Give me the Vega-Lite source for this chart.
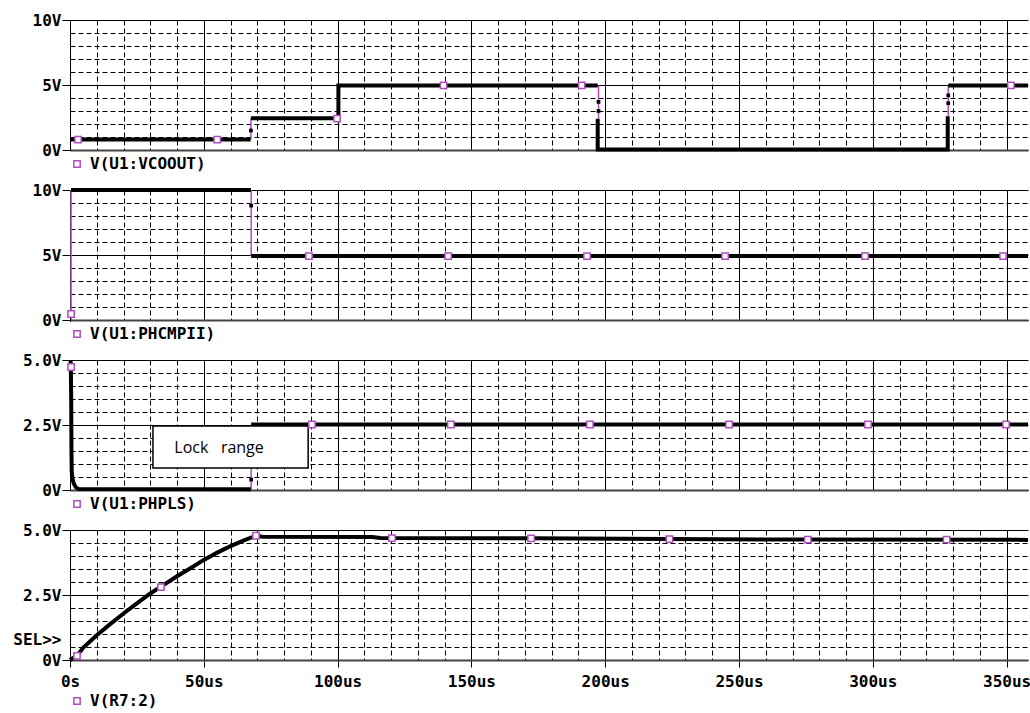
{
  "$schema": "https://vega.github.io/schema/vega-lite/v6.json",
  "background": "white",
  "padding": {"left": 12, "top": 12, "right": 0, "bottom": 0},
  "spacing": 40,
  "bounds": "flush",
  "resolve": {"scale": {"stroke": "independent"}},
  "config": {
    "view": {"stroke": null},
    "axis": {"labelFont": "DejaVu Sans Mono", "labelFontWeight": "bold", "labelFontSize": 16, "labelColor": "black", "labelFlush": false, "labelOverlap": false, "domainColor": "black", "tickColor": "black", "gridColor": "black", "gridOpacity": 1, "gridWidth": 1},
    "legend": {"labelFont": "DejaVu Sans Mono", "labelFontWeight": "bold", "labelFontSize": 16, "labelColor": "black", "padding": 0}
  },
  "datasets": {
    "trace": [
      {"i": 1, "p": "A", "s": "A1", "k": "b", "t": 0, "v": 0.8},
      {"i": 2, "p": "A", "s": "A1", "k": "b", "t": 67.5, "v": 0.8},
      {"i": 3, "p": "A", "s": "A2", "k": "p", "t": 67.6, "v": 0.8},
      {"i": 4, "p": "A", "s": "A2", "k": "p", "t": 67.6, "v": 2.45},
      {"i": 5, "p": "A", "s": "A3", "k": "b", "t": 67.6, "v": 2.45},
      {"i": 6, "p": "A", "s": "A3", "k": "b", "t": 100.3, "v": 2.45},
      {"i": 7, "p": "A", "s": "A3", "k": "b", "t": 100.3, "v": 4.97},
      {"i": 8, "p": "A", "s": "A3", "k": "b", "t": 197.2, "v": 4.97},
      {"i": 9, "p": "A", "s": "A4", "k": "p", "t": 197.5, "v": 4.97},
      {"i": 10, "p": "A", "s": "A4", "k": "p", "t": 197.5, "v": 2.4},
      {"i": 11, "p": "A", "s": "A5", "k": "b", "t": 197.2, "v": 2.4},
      {"i": 12, "p": "A", "s": "A5", "k": "b", "t": 197.2, "v": 0.03},
      {"i": 13, "p": "A", "s": "A5", "k": "b", "t": 328, "v": 0.03},
      {"i": 14, "p": "A", "s": "A5", "k": "b", "t": 328, "v": 2.6},
      {"i": 15, "p": "A", "s": "A6", "k": "p", "t": 328.2, "v": 2.6},
      {"i": 16, "p": "A", "s": "A6", "k": "p", "t": 328.2, "v": 4.97},
      {"i": 17, "p": "A", "s": "A7", "k": "b", "t": 328.2, "v": 4.97},
      {"i": 18, "p": "A", "s": "A7", "k": "b", "t": 358, "v": 4.97},
      {"i": 19, "p": "A", "s": "d", "k": "d", "t": 67.6, "v": 1.5},
      {"i": 20, "p": "A", "s": "d", "k": "d", "t": 197.5, "v": 3.7},
      {"i": 21, "p": "A", "s": "d", "k": "d", "t": 197.5, "v": 3.0},
      {"i": 22, "p": "A", "s": "d", "k": "d", "t": 328.2, "v": 4.2},
      {"i": 23, "p": "A", "s": "d", "k": "d", "t": 328.2, "v": 3.6},
      {"i": 30, "p": "B", "s": "B1", "k": "b", "t": 0, "v": 0},
      {"i": 31, "p": "B", "s": "B1", "k": "b", "t": 0.3, "v": 0},
      {"i": 32, "p": "B", "s": "B2", "k": "p", "t": 0.4, "v": 0},
      {"i": 33, "p": "B", "s": "B2", "k": "p", "t": 0.4, "v": 10},
      {"i": 34, "p": "B", "s": "B3", "k": "b", "t": 0.4, "v": 10},
      {"i": 35, "p": "B", "s": "B3", "k": "b", "t": 67.6, "v": 10},
      {"i": 36, "p": "B", "s": "B4", "k": "p", "t": 67.7, "v": 10},
      {"i": 37, "p": "B", "s": "B4", "k": "p", "t": 67.7, "v": 4.92},
      {"i": 38, "p": "B", "s": "B5", "k": "b", "t": 67.7, "v": 4.92},
      {"i": 39, "p": "B", "s": "B5", "k": "b", "t": 358, "v": 4.92},
      {"i": 40, "p": "B", "s": "d", "k": "d", "t": 67.7, "v": 8.8},
      {"i": 50, "p": "C", "s": "C1", "k": "p", "t": 0.45, "v": 5},
      {"i": 51, "p": "C", "s": "C1", "k": "p", "t": 0.45, "v": 0.4},
      {"i": 52, "p": "C", "s": "C2", "k": "b", "t": 0.2, "v": 5},
      {"i": 53, "p": "C", "s": "C2", "k": "b", "t": 0.3, "v": 4.8},
      {"i": 54, "p": "C", "s": "C2", "k": "b", "t": 0.45, "v": 3.5},
      {"i": 55, "p": "C", "s": "C2", "k": "b", "t": 0.55, "v": 1.5},
      {"i": 56, "p": "C", "s": "C2", "k": "b", "t": 0.65, "v": 0.7},
      {"i": 57, "p": "C", "s": "C2", "k": "b", "t": 0.9, "v": 0.45},
      {"i": 58, "p": "C", "s": "C2", "k": "b", "t": 1.4, "v": 0.25},
      {"i": 59, "p": "C", "s": "C2", "k": "b", "t": 2.2, "v": 0.1},
      {"i": 60, "p": "C", "s": "C2", "k": "b", "t": 3.2, "v": 0.04},
      {"i": 61, "p": "C", "s": "C2", "k": "b", "t": 67.6, "v": 0.03},
      {"i": 62, "p": "C", "s": "C3", "k": "p", "t": 67.7, "v": 0.03},
      {"i": 63, "p": "C", "s": "C3", "k": "p", "t": 67.7, "v": 2.52},
      {"i": 64, "p": "C", "s": "C4", "k": "b", "t": 67.7, "v": 2.52},
      {"i": 65, "p": "C", "s": "C4", "k": "b", "t": 358, "v": 2.52},
      {"i": 66, "p": "C", "s": "d", "k": "d", "t": 67.7, "v": 0.4},
      {"i": 70, "p": "D", "s": "D1", "k": "b", "t": 0, "v": 0},
      {"i": 71, "p": "D", "s": "D1", "k": "b", "t": 2.6, "v": 0.16},
      {"i": 72, "p": "D", "s": "D1", "k": "b", "t": 5, "v": 0.48},
      {"i": 73, "p": "D", "s": "D1", "k": "b", "t": 10, "v": 0.95},
      {"i": 74, "p": "D", "s": "D1", "k": "b", "t": 15, "v": 1.38},
      {"i": 75, "p": "D", "s": "D1", "k": "b", "t": 20, "v": 1.79},
      {"i": 76, "p": "D", "s": "D1", "k": "b", "t": 25, "v": 2.18},
      {"i": 77, "p": "D", "s": "D1", "k": "b", "t": 30, "v": 2.56},
      {"i": 78, "p": "D", "s": "D1", "k": "b", "t": 34, "v": 2.82},
      {"i": 79, "p": "D", "s": "D1", "k": "b", "t": 40, "v": 3.22},
      {"i": 80, "p": "D", "s": "D1", "k": "b", "t": 45, "v": 3.53},
      {"i": 81, "p": "D", "s": "D1", "k": "b", "t": 50, "v": 3.85},
      {"i": 82, "p": "D", "s": "D1", "k": "b", "t": 55, "v": 4.13},
      {"i": 83, "p": "D", "s": "D1", "k": "b", "t": 60, "v": 4.38},
      {"i": 84, "p": "D", "s": "D1", "k": "b", "t": 65, "v": 4.6},
      {"i": 85, "p": "D", "s": "D1", "k": "b", "t": 69.5, "v": 4.78},
      {"i": 86, "p": "D", "s": "D1", "k": "b", "t": 72, "v": 4.74},
      {"i": 87, "p": "D", "s": "D1", "k": "b", "t": 113, "v": 4.73},
      {"i": 88, "p": "D", "s": "D1", "k": "b", "t": 116, "v": 4.69},
      {"i": 89, "p": "D", "s": "D1", "k": "b", "t": 172, "v": 4.68},
      {"i": 90, "p": "D", "s": "D1", "k": "b", "t": 224, "v": 4.65},
      {"i": 91, "p": "D", "s": "D1", "k": "b", "t": 275, "v": 4.63},
      {"i": 92, "p": "D", "s": "D1", "k": "b", "t": 358, "v": 4.62}
    ],
    "marks": [
      {"p": "A", "name": "V(U1:VCOOUT)", "t": 3, "v": 0.8},
      {"p": "A", "name": "V(U1:VCOOUT)", "t": 55, "v": 0.8},
      {"p": "A", "name": "V(U1:VCOOUT)", "t": 99.8, "v": 2.42},
      {"p": "A", "name": "V(U1:VCOOUT)", "t": 139.6, "v": 4.97},
      {"p": "A", "name": "V(U1:VCOOUT)", "t": 191.2, "v": 4.97},
      {"p": "A", "name": "V(U1:VCOOUT)", "t": 351.6, "v": 4.97},
      {"p": "B", "name": "V(U1:PHCMPII)", "t": 0.4, "v": 0.46},
      {"p": "B", "name": "V(U1:PHCMPII)", "t": 89.3, "v": 4.92},
      {"p": "B", "name": "V(U1:PHCMPII)", "t": 141.3, "v": 4.92},
      {"p": "B", "name": "V(U1:PHCMPII)", "t": 193.2, "v": 4.92},
      {"p": "B", "name": "V(U1:PHCMPII)", "t": 244.8, "v": 4.92},
      {"p": "B", "name": "V(U1:PHCMPII)", "t": 297.1, "v": 4.92},
      {"p": "B", "name": "V(U1:PHCMPII)", "t": 348.7, "v": 4.92},
      {"p": "C", "name": "V(U1:PHPLS)", "t": 0.4, "v": 4.73},
      {"p": "C", "name": "V(U1:PHPLS)", "t": 90.4, "v": 2.52},
      {"p": "C", "name": "V(U1:PHPLS)", "t": 142.3, "v": 2.52},
      {"p": "C", "name": "V(U1:PHPLS)", "t": 194.3, "v": 2.52},
      {"p": "C", "name": "V(U1:PHPLS)", "t": 246.3, "v": 2.52},
      {"p": "C", "name": "V(U1:PHPLS)", "t": 298.2, "v": 2.52},
      {"p": "C", "name": "V(U1:PHPLS)", "t": 349.8, "v": 2.52},
      {"p": "D", "name": "V(R7:2)", "t": 2.6, "v": 0.16},
      {"p": "D", "name": "V(R7:2)", "t": 34, "v": 2.8},
      {"p": "D", "name": "V(R7:2)", "t": 69.5, "v": 4.78},
      {"p": "D", "name": "V(R7:2)", "t": 120.3, "v": 4.69},
      {"p": "D", "name": "V(R7:2)", "t": 172.3, "v": 4.68},
      {"p": "D", "name": "V(R7:2)", "t": 224, "v": 4.65},
      {"p": "D", "name": "V(R7:2)", "t": 275.7, "v": 4.63},
      {"p": "D", "name": "V(R7:2)", "t": 327.6, "v": 4.63}
    ],
    "annot": [
      {"k": "box", "t": 31, "t2": 89, "v": 2.46, "v2": 0.85},
      {"k": "text", "t": 39, "v": 1.62, "label": "Lock\u00a0\u00a0 range"}
    ]
  },
  "vconcat": [
    {
      "width": 958, "height": 130,
      "encoding": {
        "x": {"field": "t", "type": "quantitative", "scale": {"domain": [0, 358], "nice": false, "zero": false},
          "axis": {"title": null, "values": [0,10,20,30,40,50,60,70,80,90,100,110,120,130,140,150,160,170,180,190,200,210,220,230,240,250,260,270,280,290,300,310,320,330,340,350], "labels": false, "ticks": false, "domainColor": "#444", "domainWidth": 2, "gridDash": {"condition": {"test": "datum.value % 50 === 0", "value": []}, "value": [5, 3]}}},
        "y": {"field": "v", "type": "quantitative", "scale": {"domain": [0, 10], "nice": false, "zero": false},
          "axis": {"title": null, "values": [0,1,2,3,4,5,6,7,8,9,10], "tickSize": 8, "labelPadding": 1, "tickOpacity": {"condition": {"test": "datum.value % 5 === 0", "value": 1}, "value": 0}, "labelExpr": "datum.value === 0 ? '0V' : datum.value === 5 ? '5V' : datum.value === 10 ? '10V' : ''", "gridDash": {"condition": {"test": "datum.value % 5 === 0", "value": []}, "value": [5, 3]}}}
      },
      "layer": [
        {"data": {"name": "trace"}, "transform": [{"filter": "datum.p === 'A' && datum.k === 'p'"}], "mark": {"type": "line", "color": "#b04cc0", "strokeWidth": 1.5}, "encoding": {"detail": {"field": "s"}, "order": {"field": "i", "type": "quantitative"}}},
        {"data": {"name": "trace"}, "transform": [{"filter": "datum.p === 'A' && datum.k === 'b'"}], "mark": {"type": "line", "color": "black", "strokeWidth": 4}, "encoding": {"detail": {"field": "s"}, "order": {"field": "i", "type": "quantitative"}}},
        {"data": {"name": "trace"}, "transform": [{"filter": "datum.p === 'A' && datum.k === 'd'"}], "mark": {"type": "square", "color": "black", "size": 14, "opacity": 1}},
        {"data": {"name": "marks"}, "transform": [{"filter": "datum.p === 'A'"}], "mark": {"type": "point", "shape": "square", "filled": true, "fill": "white", "fillOpacity": 1, "strokeWidth": 1.5, "size": 40, "opacity": 1},
          "encoding": {"stroke": {"field": "name", "type": "nominal", "scale": {"range": ["#b04cc0"]}, "legend": {"title": null, "orient": "none", "legendX": -1, "legendY": 136, "symbolType": "square", "symbolSize": 40, "symbolStrokeWidth": 1.5, "symbolFillColor": "white", "labelOffset": 5}}}}
      ]
    },
    {
      "width": 958, "height": 130,
      "encoding": {
        "x": {"field": "t", "type": "quantitative", "scale": {"domain": [0, 358], "nice": false, "zero": false},
          "axis": {"title": null, "values": [0,10,20,30,40,50,60,70,80,90,100,110,120,130,140,150,160,170,180,190,200,210,220,230,240,250,260,270,280,290,300,310,320,330,340,350], "labels": false, "ticks": false, "domainColor": "#444", "domainWidth": 2, "gridDash": {"condition": {"test": "datum.value % 50 === 0", "value": []}, "value": [5, 3]}}},
        "y": {"field": "v", "type": "quantitative", "scale": {"domain": [0, 10], "nice": false, "zero": false},
          "axis": {"title": null, "values": [0,1,2,3,4,5,6,7,8,9,10], "tickSize": 8, "labelPadding": 1, "tickOpacity": {"condition": {"test": "datum.value % 5 === 0", "value": 1}, "value": 0}, "labelExpr": "datum.value === 0 ? '0V' : datum.value === 5 ? '5V' : datum.value === 10 ? '10V' : ''", "gridDash": {"condition": {"test": "datum.value % 5 === 0", "value": []}, "value": [5, 3]}}}
      },
      "layer": [
        {"data": {"name": "trace"}, "transform": [{"filter": "datum.p === 'B' && datum.k === 'p'"}], "mark": {"type": "line", "color": "#b04cc0", "strokeWidth": 1.5}, "encoding": {"detail": {"field": "s"}, "order": {"field": "i", "type": "quantitative"}}},
        {"data": {"name": "trace"}, "transform": [{"filter": "datum.p === 'B' && datum.k === 'b'"}], "mark": {"type": "line", "color": "black", "strokeWidth": 4}, "encoding": {"detail": {"field": "s"}, "order": {"field": "i", "type": "quantitative"}}},
        {"data": {"name": "trace"}, "transform": [{"filter": "datum.p === 'B' && datum.k === 'd'"}], "mark": {"type": "square", "color": "black", "size": 14, "opacity": 1}},
        {"data": {"name": "marks"}, "transform": [{"filter": "datum.p === 'B'"}], "mark": {"type": "point", "shape": "square", "filled": true, "fill": "white", "fillOpacity": 1, "strokeWidth": 1.5, "size": 40, "opacity": 1},
          "encoding": {"stroke": {"field": "name", "type": "nominal", "scale": {"range": ["#b04cc0"]}, "legend": {"title": null, "orient": "none", "legendX": -1, "legendY": 136, "symbolType": "square", "symbolSize": 40, "symbolStrokeWidth": 1.5, "symbolFillColor": "white", "labelOffset": 5}}}}
      ]
    },
    {
      "width": 958, "height": 130,
      "encoding": {
        "x": {"field": "t", "type": "quantitative", "scale": {"domain": [0, 358], "nice": false, "zero": false},
          "axis": {"title": null, "values": [0,10,20,30,40,50,60,70,80,90,100,110,120,130,140,150,160,170,180,190,200,210,220,230,240,250,260,270,280,290,300,310,320,330,340,350], "labels": false, "ticks": false, "domainColor": "#444", "domainWidth": 2, "gridDash": {"condition": {"test": "datum.value % 50 === 0", "value": []}, "value": [5, 3]}}},
        "y": {"field": "v", "type": "quantitative", "scale": {"domain": [0, 5], "nice": false, "zero": false},
          "axis": {"title": null, "values": [0,0.5,1,1.5,2,2.5,3,3.5,4,4.5,5], "tickSize": 8, "labelPadding": 1, "tickOpacity": {"condition": {"test": "datum.value % 2.5 === 0", "value": 1}, "value": 0}, "labelExpr": "datum.value === 0 ? '0V' : datum.value === 2.5 ? '2.5V' : datum.value === 5 ? '5.0V' : ''", "gridDash": {"condition": {"test": "datum.value % 2.5 === 0", "value": []}, "value": [5, 3]}}}
      },
      "layer": [
        {"data": {"name": "trace"}, "transform": [{"filter": "datum.p === 'C' && datum.k === 'p'"}], "mark": {"type": "line", "color": "#b04cc0", "strokeWidth": 1.5}, "encoding": {"detail": {"field": "s"}, "order": {"field": "i", "type": "quantitative"}}},
        {"data": {"name": "trace"}, "transform": [{"filter": "datum.p === 'C' && datum.k === 'b'"}], "mark": {"type": "line", "color": "black", "strokeWidth": 4}, "encoding": {"detail": {"field": "s"}, "order": {"field": "i", "type": "quantitative"}}},
        {"data": {"name": "trace"}, "transform": [{"filter": "datum.p === 'C' && datum.k === 'd'"}], "mark": {"type": "square", "color": "black", "size": 14, "opacity": 1}},
        {"data": {"name": "annot"}, "transform": [{"filter": "datum.k === 'box'"}], "mark": {"type": "rect", "fill": "white", "stroke": "black", "strokeWidth": 1.5}, "encoding": {"x2": {"field": "t2"}, "y2": {"field": "v2"}}},
        {"data": {"name": "annot"}, "transform": [{"filter": "datum.k === 'text'"}], "mark": {"type": "text", "align": "left", "baseline": "middle", "font": "Open Sans", "fontSize": 16, "color": "black"}, "encoding": {"text": {"field": "label"}}},
        {"data": {"name": "marks"}, "transform": [{"filter": "datum.p === 'C'"}], "mark": {"type": "point", "shape": "square", "filled": true, "fill": "white", "fillOpacity": 1, "strokeWidth": 1.5, "size": 40, "opacity": 1},
          "encoding": {"stroke": {"field": "name", "type": "nominal", "scale": {"range": ["#b04cc0"]}, "legend": {"title": null, "orient": "none", "legendX": -1, "legendY": 136, "symbolType": "square", "symbolSize": 40, "symbolStrokeWidth": 1.5, "symbolFillColor": "white", "labelOffset": 5}}}}
      ]
    },
    {
      "width": 958, "height": 130,
      "encoding": {
        "x": {"field": "t", "type": "quantitative", "scale": {"domain": [0, 358], "nice": false, "zero": false},
          "axis": {"title": null, "values": [0,10,20,30,40,50,60,70,80,90,100,110,120,130,140,150,160,170,180,190,200,210,220,230,240,250,260,270,280,290,300,310,320,330,340,350], "labels": true, "ticks": true, "tickSize": 7, "labelPadding": 6, "tickOpacity": {"condition": {"test": "datum.value % 50 === 0", "value": 1}, "value": 0}, "labelExpr": "datum.value % 50 !== 0 ? '' : datum.value === 0 ? '0s' : datum.value + 'us'", "domainColor": "#444", "domainWidth": 2, "gridDash": {"condition": {"test": "datum.value % 50 === 0", "value": []}, "value": [5, 3]}}},
        "y": {"field": "v", "type": "quantitative", "scale": {"domain": [0, 5], "nice": false, "zero": false},
          "axis": {"title": null, "values": [0,0.5,0.77,1,1.5,2,2.5,3,3.5,4,4.5,5], "tickSize": 8, "labelPadding": 1, "tickOpacity": {"condition": {"test": "datum.value % 2.5 === 0", "value": 1}, "value": 0}, "gridOpacity": {"condition": {"test": "datum.value === 0.77", "value": 0}, "value": 1}, "labelExpr": "datum.value === 0 ? '0V' : datum.value === 2.5 ? '2.5V' : datum.value === 5 ? '5.0V' : datum.value === 0.77 ? 'SEL>>' : ''", "gridDash": {"condition": {"test": "datum.value % 2.5 === 0", "value": []}, "value": [5, 3]}}}
      },
      "layer": [
        {"data": {"name": "trace"}, "transform": [{"filter": "datum.p === 'D' && datum.k === 'b'"}], "mark": {"type": "line", "color": "black", "strokeWidth": 4}, "encoding": {"detail": {"field": "s"}, "order": {"field": "i", "type": "quantitative"}}},
        {"data": {"name": "marks"}, "transform": [{"filter": "datum.p === 'D'"}], "mark": {"type": "point", "shape": "square", "filled": true, "fill": "white", "fillOpacity": 1, "strokeWidth": 1.5, "size": 40, "opacity": 1},
          "encoding": {"stroke": {"field": "name", "type": "nominal", "scale": {"range": ["#b04cc0"]}, "legend": {"title": null, "orient": "none", "legendX": -1, "legendY": 163, "symbolType": "square", "symbolSize": 40, "symbolStrokeWidth": 1.5, "symbolFillColor": "white", "labelOffset": 5}}}}
      ]
    }
  ]
}
